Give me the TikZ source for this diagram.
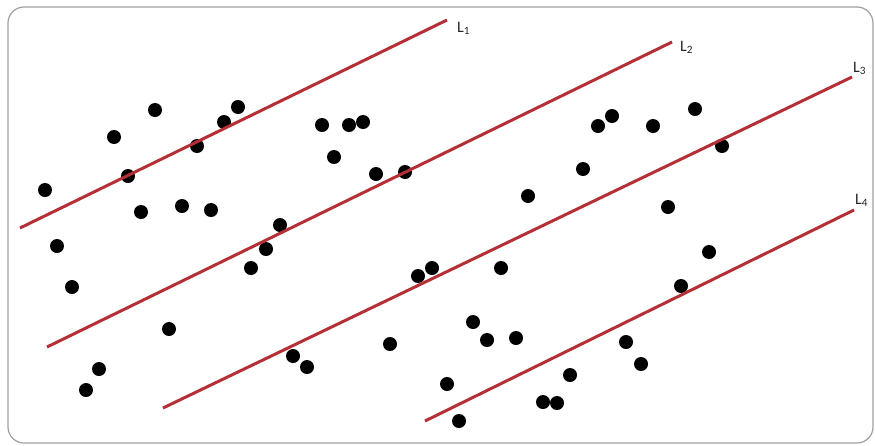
\documentclass[tikz,border=0pt]{standalone}
\usepackage{fontspec}
\setmainfont{Carlito}
\definecolor{linered}{RGB}{181,47,54}
\definecolor{framegray}{RGB}{160,160,160}
\begin{document}
\begin{tikzpicture}[x=1pt,y=-1pt,
  dot/.style={circle,fill=black,inner sep=0pt,minimum size=14pt},
  regline/.style={draw=linered,line width=3pt},
  lab/.style={anchor=base west,inner sep=0pt,font=\fontsize{16}{18}\selectfont,text=black!85}]
\useasboundingbox (0,0) rectangle (875,445);
\draw[framegray,line width=1.2pt,rounded corners=16pt] (8,7) rectangle (873,443);
% dots
\foreach \x/\y [count=\i] in {45/190,57/246,72/287,114/137,128/176,141/212,155/110,169/329,182/206,197/146,211/210,224/122,238/107,251/268,266/249,280/225,322/125,334/157,349/125,363/122,376/174,405/172,418/276,432/268,99/369,86/390,293/356,307/367,390/344,447/384,459/421,473/322,487/340,501/268,516/338,528/196,543/402,557/403,570/375,583/169,598/126,612/116,626/342,641/364,653/126,668/207,681/286,695/109,709/252,722/146}
  \node[dot] (d\i) at (\x,\y) {};
% lines
\coordinate (a1) at (20,228);  \coordinate (b1) at (447,20);
\coordinate (a2) at (47,347);  \coordinate (b2) at (672,42);
\coordinate (a3) at (163,408); \coordinate (b3) at (852,77);
\coordinate (a4) at (425,421); \coordinate (b4) at (854,210);
\draw[regline] (a1) -- (b1);
\draw[regline] (a2) -- (b2);
\draw[regline] (a3) -- (b3);
\draw[regline] (a4) -- (b4);
% labels
\node[lab] (l1) at (457,32) {L\textsubscript{1}};
\node[lab] (l2) at (680,51) {L\textsubscript{2}};
\node[lab] (l3) at (853,72) {L\textsubscript{3}};
\node[lab] (l4) at (855,204) {L\textsubscript{4}};
\end{tikzpicture}
\end{document}
